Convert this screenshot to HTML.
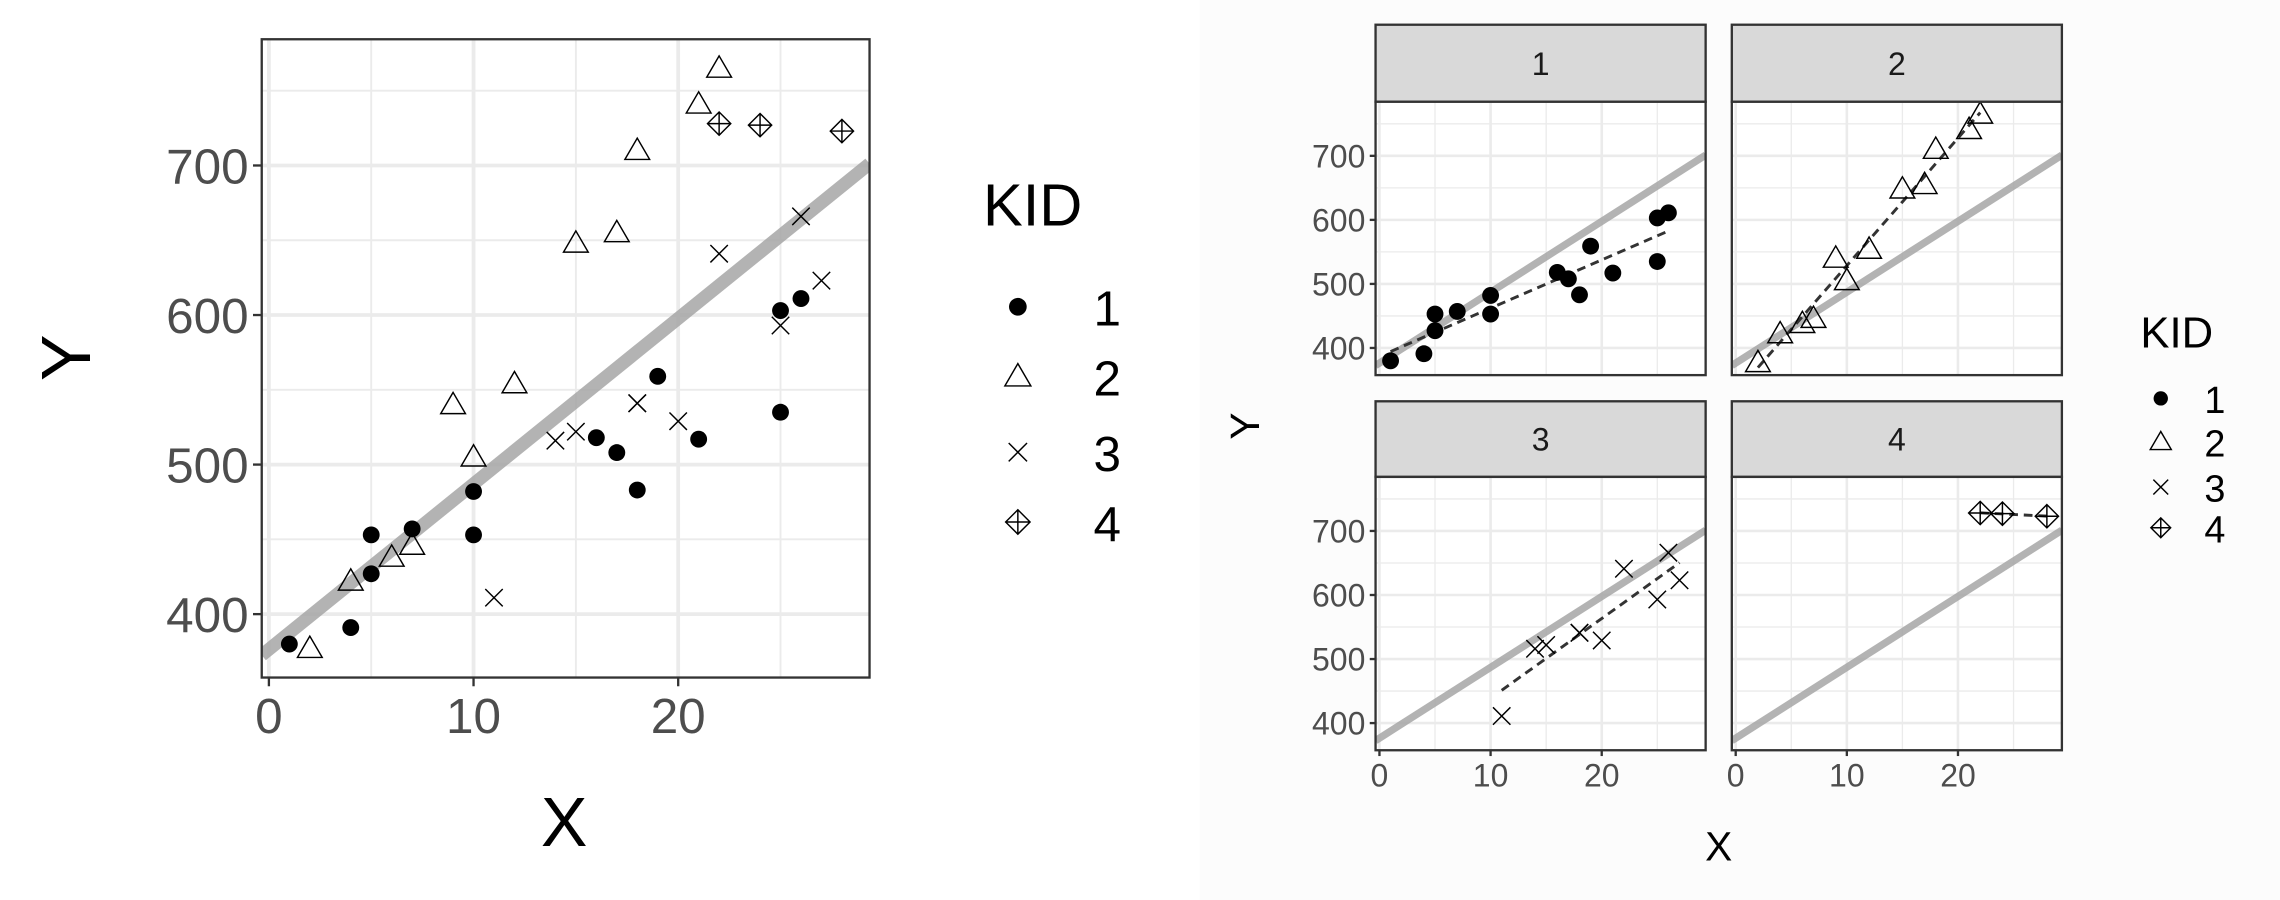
<!DOCTYPE html>
<html><head><meta charset="utf-8"><style>
html,body{margin:0;padding:0;background:#fff;}
svg{display:block;}
text{font-family:"Liberation Sans",Arial,sans-serif;}
</style></head>
<body>
<svg id="chart" width="2280" height="900" viewBox="0 0 1568 619" preserveAspectRatio="none" xmlns="http://www.w3.org/2000/svg">
<rect x="0" y="0" width="1568" height="619" fill="#ffffff"/>
<rect x="825" y="0" width="743" height="619" fill="#fcfcfc"/>
<g id="left"></g>
<g id="right"></g>
</svg>
<script>
const kid1X=[1,4,5,5,7,10,10,16,17,18,19,21,25,25,26];
const kid1Y=[380,391,427,453,457,453,482,518,508,483,559,517,535,603,611];
const kid2X=[2,4,6,7,9,10,12,15,17,18,21,22];
const kid2Y=[377,422,438,446,540,505,554,648,655,710,741,765];
const kid3X=[11,14,15,18,18,20,22,25,26,27];
const kid3Y=[411,516,522,541,541,529,641,593,666,623];
const kid4X=[22,24,28];
const kid4Y=[728,727,723];
const groupNames=["1","2","3","4"];
const xTicks=[0,10,20];
const yTicks=[400,500,600,700];
const xMinor=[5,15,25];
const yMinor=[450,550,650,750];

const NS="http://www.w3.org/2000/svg";
const groups=[[kid1X,kid1Y],[kid2X,kid2Y],[kid3X,kid3Y],[kid4X,kid4Y]];
function mk(parent,tag,attrs){const e=document.createElementNS(NS,tag);for(const k in attrs)e.setAttribute(k,attrs[k]);parent.appendChild(e);return e;}
function fit(xs,ys){const n=xs.length;const mx=xs.reduce((a,b)=>a+b,0)/n,my=ys.reduce((a,b)=>a+b,0)/n;let sxy=0,sxx=0;for(let i=0;i<n;i++){sxy+=(xs[i]-mx)*(ys[i]-my);sxx+=(xs[i]-mx)**2;}const b=sxx?sxy/sxx:0;return [my-b*mx,b];}
const allX=[].concat(kid1X,kid2X,kid3X,kid4X), allY=[].concat(kid1Y,kid2Y,kid3Y,kid4Y);
const xmn=Math.min(...allX),xmx=Math.max(...allX),ymn=Math.min(...allY),ymx=Math.max(...allY);
const xd=[xmn-(xmx-xmn)*0.05,xmx+(xmx-xmn)*0.05], yd=[ymn-(ymx-ymn)*0.05,ymx+(ymx-ymn)*0.05];
const overall=fit(allX,allY);

function marker(g,k,cx,cy,s){
  let e;
  if(k===0){e=mk(g,'circle',{cx:cx,cy:cy,r:5.8*s,fill:'#000'});}
  else if(k===1){const h=8.5*s;e=mk(g,'polygon',{points:`${cx},${cy-h} ${cx-h*1.0},${cy+h*0.72} ${cx+h*1.0},${cy+h*0.72}`,fill:'none',stroke:'#000','stroke-width':1});}
  else if(k===2){const h=6*s;e=mk(g,'path',{d:`M${cx-h},${cy-h}L${cx+h},${cy+h}M${cx-h},${cy+h}L${cx+h},${cy-h}`,stroke:'#000','stroke-width':1,fill:'none'});}
  else {const h=8*s;e=mk(g,'path',{d:`M${cx},${cy-h}L${cx+h},${cy}L${cx},${cy+h}L${cx-h},${cy}Z M${cx-h},${cy}L${cx+h},${cy}M${cx},${cy-h}L${cx},${cy+h}`,stroke:'#000','stroke-width':1,fill:'none'});}
  return e;
}

function panel(root,x0,y0,w,h,opts){
  const sx=v=>x0+(v-xd[0])/(xd[1]-xd[0])*w;
  const sy=v=>y0+h-(v-yd[0])/(yd[1]-yd[0])*h;
  const g=mk(root,'g',{});
  
  
  mk(g,'rect',{x:x0,y:y0,width:w,height:h,fill:'#fff'});
  const cp='cp'+Math.round(x0)+'_'+Math.round(y0);
  const defs=mk(g,'defs',{});const c=mk(defs,'clipPath',{id:cp});mk(c,'rect',{x:x0,y:y0,width:w,height:h});
  const inner=mk(g,'g',{'clip-path':`url(#${cp})`});
  xMinor.forEach(v=>mk(inner,'line',{x1:sx(v),x2:sx(v),y1:y0,y2:y0+h,stroke:'#ebebeb','stroke-width':opts.minw}));
  yMinor.forEach(v=>mk(inner,'line',{x1:x0,x2:x0+w,y1:sy(v),y2:sy(v),stroke:'#ebebeb','stroke-width':opts.minw}));
  xTicks.forEach(v=>mk(inner,'line',{x1:sx(v),x2:sx(v),y1:y0,y2:y0+h,stroke:'#ebebeb','stroke-width':opts.majw}));
  yTicks.forEach(v=>mk(inner,'line',{x1:x0,x2:x0+w,y1:sy(v),y2:sy(v),stroke:'#ebebeb','stroke-width':opts.majw}));
  const rl=mk(inner,'line',{x1:sx(xd[0]),y1:sy(overall[0]+overall[1]*xd[0]),x2:sx(xd[1]),y2:sy(overall[0]+overall[1]*xd[1]),stroke:'#a6a6a6','stroke-opacity':0.85,'stroke-width':opts.lw});
  
  
  opts.groups.forEach(k=>{
    const [xs,ys]=groups[k];
    if(opts.dashed){const f=fit(xs,ys);const a=Math.min(...xs),b=Math.max(...xs);
      const dl=mk(inner,'line',{x1:sx(a),y1:sy(f[0]+f[1]*a),x2:sx(b),y2:sy(f[0]+f[1]*b),stroke:'#333','stroke-width':2,'stroke-dasharray':'6,4'});
      
      }
    xs.forEach((x,i)=>{const m=marker(inner,k,sx(x),sy(ys[i]),1);
      
      });
  });
  mk(g,'rect',{x:x0,y:y0,width:w,height:h,fill:'none',stroke:'#333','stroke-width':1.6});
  if(opts.yLabels){yTicks.forEach(v=>{mk(g,'line',{x1:x0-opts.tl,x2:x0,y1:sy(v),y2:sy(v),stroke:'#333','stroke-width':1.6});
    const t=mk(g,'text',{x:x0-opts.tl-3,y:sy(v)+opts.fs*0.36,'text-anchor':'end','font-size':opts.fs,fill:'#4d4d4d'});t.textContent=v;
    
    });}
  if(opts.xLabels){xTicks.forEach(v=>{mk(g,'line',{x1:sx(v),x2:sx(v),y1:y0+h,y2:y0+h+opts.tl,stroke:'#333','stroke-width':1.6});
    const t=mk(g,'text',{x:sx(v),y:y0+h+opts.tl+opts.fs*0.95,'text-anchor':'middle','font-size':opts.fs,fill:'#4d4d4d'});t.textContent=v;
    
    });}
}
function txt(p,x,y,s,fs,anchor,name,rot){const t=mk(p,'text',{x:x,y:y,'font-size':fs,'text-anchor':anchor||'start',fill:'#000'});if(rot)t.setAttribute('transform',`rotate(-90 ${x} ${y})`);t.textContent=s;
  
  return t;}

const L=document.getElementById('left');
panel(L,180,27,418,439,{name:'combined-panel',groups:[0,1,2,3],dashed:false,lw:9,majw:2.6,minw:1.3,yLabels:true,xLabels:true,fs:34,tl:6});
txt(L,388,582,'X',48,'middle','x-axis-title');
txt(L,62,246,'Y',48,'middle','y-axis-title',true);
txt(L,676,155,'KID',41,'start','legend-title');
const legY=[211,259,311,359];
legY.forEach((y,k)=>{const m=marker(L,k,700,y,1.05);
  
  
  txt(L,752,y+13,groupNames[k],34,'start','legend-label-'+groupNames[k]);});

const R=document.getElementById('right');
const cols=[946,1191], rows=[[17,70],[276,328]], pw=227, ph=188;
for(let k=0;k<4;k++){
  const c=k%2, r=Math.floor(k/2);
  const x0=cols[c], sy0=rows[r][0], py=rows[r][1];
  const sg=mk(R,'g',{});
  
  
  mk(sg,'rect',{x:x0,y:sy0,width:pw,height:py-sy0,fill:'#d9d9d9',stroke:'#333','stroke-width':1.6});
  txt(sg,x0+pw/2,(sy0+py)/2+8,groupNames[k],22,'middle','facet-label-'+groupNames[k]).setAttribute('fill','#1a1a1a');
  panel(R,x0,py,pw,ph,{name:'facet-panel-'+groupNames[k],groups:[k],dashed:true,lw:5,majw:1.8,minw:0.9,yLabels:c===0,xLabels:r===1,fs:22,tl:4});
}
txt(R,1182,592,'X',28,'middle','facet-x-axis-title');
txt(R,866,293,'Y',28,'middle','facet-y-axis-title',true);
txt(R,1472,239,'KID',30,'start','facet-legend-title');
const legY2=[274,304,335,363];
legY2.forEach((y,k)=>{const m=marker(R,k,1486,y,0.85);
  
  
  txt(R,1516,y+10,groupNames[k],26,'start','facet-legend-label-'+groupNames[k]);});
</script>
</body></html>
